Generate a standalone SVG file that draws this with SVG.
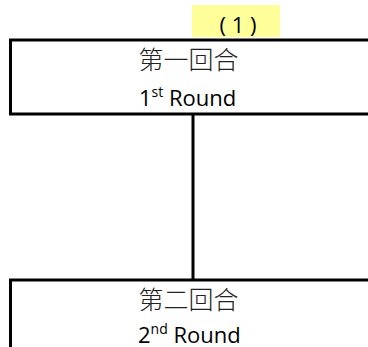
<svg xmlns="http://www.w3.org/2000/svg" width="368" height="347" viewBox="0 0 368 347">
<style>
.box{fill:#fff;stroke:#000;stroke-width:3}
.cjk{font-family:"Noto Sans CJK SC","Noto Sans CJK TC",sans-serif;font-size:25px;font-weight:300;fill:#222;text-anchor:middle}
.en{font-family:"Open Sans","Liberation Sans",sans-serif;font-size:22px;fill:#000}
.sup{font-size:14px}
.conn{stroke:#000;stroke-width:3;fill:none}
</style>
<g id="connectors">
<line class="conn" x1="193" y1="114" x2="193" y2="280"/>
</g>
<g id="label1">
<rect x="192" y="5" width="88" height="32" fill="#FFFF99"/>
<text class="en" x="238" y="33" text-anchor="middle" xml:space="preserve">( 1 )</text>
</g>
<g id="round1">
<rect class="box" x="10.5" y="40" width="370" height="74"/>
<text class="cjk" x="188.5" y="69">第一回合</text>
<text class="en" x="139" y="106">1<tspan class="sup" dy="-9">st</tspan><tspan dy="9"> Round</tspan></text>
</g>
<g id="round2">
<rect class="box" x="10.5" y="280" width="370" height="80"/>
<text class="cjk" x="188.5" y="309">第二回合</text>
<text class="en" x="138" y="343">2<tspan class="sup" dy="-9">nd</tspan><tspan dy="9"> Round</tspan></text>
</g>
</svg>
